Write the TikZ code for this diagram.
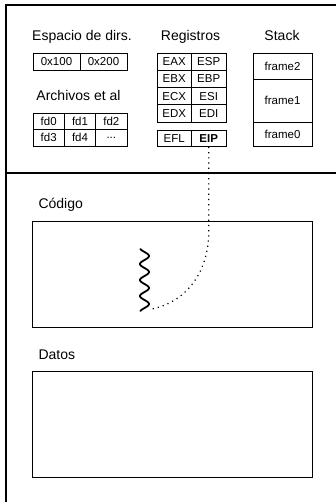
\documentclass[tikz,border=0pt]{standalone}
\usepackage{fontspec}
\setmainfont{Liberation Sans}

\begin{document}
\begin{tikzpicture}[x=1pt,y=-1pt,
    titulo/.style={font=\fontsize{14}{16}\selectfont},
    celda/.style={draw,line width=0.8pt,inner sep=0pt,font=\fontsize{11.5}{13}\selectfont},
    marco/.style={line width=1.3pt},
    caja/.style={draw,line width=0.9pt,inner sep=0pt,minimum width=280pt,minimum height=106pt},
    puntos/.style={line width=1.2pt,dash pattern=on 1.2pt off 4pt}]
    % Parameters
    \def\dirW{47} % width of an address cell
    \def\fdW{31.33} % width of a file cell
    \def\regW{34.5} % width of a register cell
    \def\regH{17.25} % height of a register row

    \useasboundingbox (0,0) rectangle (336,502);

    % Outer frame and divider
    \draw[marco] (336,5) -- (6,5) -- (6,502);
    \draw[marco] (6,173) -- (336,173);

    % Titles
    \node[titulo,anchor=base] (tdirs) at (82,41) {Espacio de dirs.};
    \node[titulo,anchor=base] (tregs) at (190.5,41) {Registros};
    \node[titulo,anchor=base] (tstack) at (282,41) {Stack};
    \node[titulo,anchor=base] (tarch) at (78.5,101) {Archivos et al};

    % Address space
    \begin{scope}[every node/.style={celda,minimum width=\dirW pt,minimum height=17pt}]
        \node (d100) at (56.5,61.5) {0x100};
        \node (d200) at (103.5,61.5) {0x200};
    \end{scope}

    % Files
    \begin{scope}[every node/.style={celda,minimum width=\fdW pt,minimum height=16.5pt}]
        \node (fd0) at (48.67,121.25) {fd0};
        \node (fd1) at (80,121.25) {fd1};
        \node (fd2) at (111.33,121.25) {fd2};
        \node (fd3) at (48.67,137.75) {fd3};
        \node (fd4) at (80,137.75) {fd4};
        \node (fdmas) at (111.33,137.75) {...};
    \end{scope}

    % Registers
    \begin{scope}[every node/.style={celda,minimum width=\regW pt,minimum height=\regH pt}]
        \node (eax) at (174.25,61.6) {EAX};
        \node (esp) at (208.75,61.6) {ESP};
        \node (ebx) at (174.25,78.9) {EBX};
        \node (ebp) at (208.75,78.9) {EBP};
        \node (ecx) at (174.25,96.1) {ECX};
        \node (esi) at (208.75,96.1) {ESI};
        \node (edx) at (174.25,113.4) {EDX};
        \node (edi) at (208.75,113.4) {EDI};
        \node[minimum height=16.5pt] (efl) at (174.25,138.25) {EFL};
        \node[minimum height=16.5pt] (eip) at (208.75,138.25) {\textbf{EIP}};
    \end{scope}

    % Stack
    \begin{scope}[every node/.style={celda,minimum width=59pt}]
        \node[minimum height=26pt] (frame2) at (282.5,66) {frame2};
        \node[minimum height=43pt] (frame1) at (282.5,100.5) {frame1};
        \node[minimum height=24pt] (frame0) at (282.5,134) {frame0};
    \end{scope}

    % Code and data
    \node[titulo,anchor=base west] (tcodigo) at (35,209) {Código};
    \node[caja] (codigo) at (172,274) {};
    \node[titulo,anchor=base west] (tdatos) at (35,359) {Datos};
    \node[caja] (datos) at (172,424) {};

    % Instruction pointer
    \draw[line width=1.8pt,line cap=round,line join=round]
        plot[variable=\t,domain=0:62,samples=125] ({144.5+4.5*sin(22.5*(\t-3))},{249+\t});
    \coordinate (ondafin) at (152,309);
    \coordinate (codo) at (0,232);
    \draw[puntos] (eip.south) -- (eip.south |- codo) to[out=-90,in=12] (ondafin);
\end{tikzpicture}
\end{document}
